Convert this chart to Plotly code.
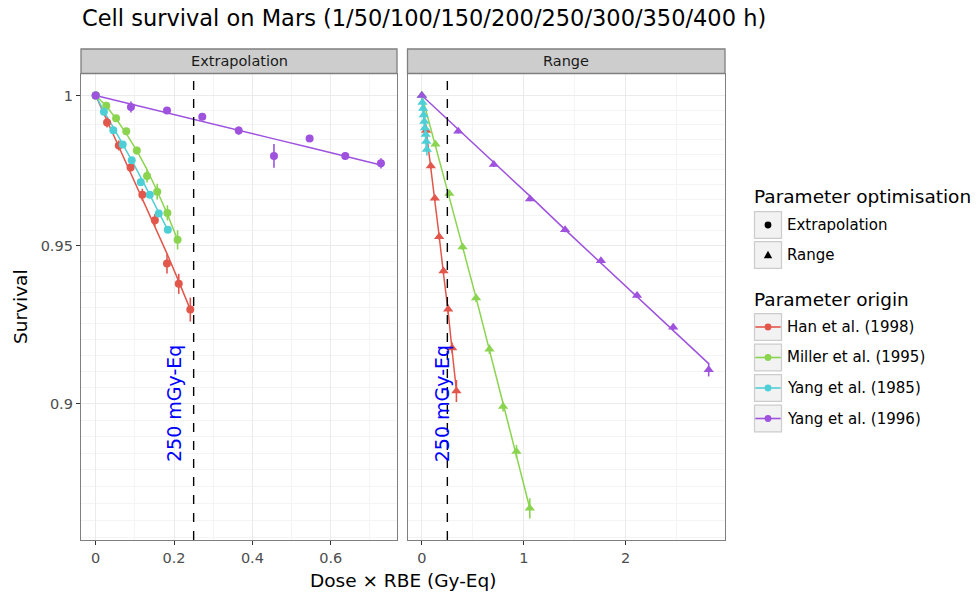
import math
import plotly.graph_objects as go

W, H = 979, 597

TITLE = "Cell survival on Mars (1/50/100/150/200/250/300/350/400 h)"
ORIGINS = ["Han et al. (1998)", "Miller et al. (1995)", "Yang et al. (1985)", "Yang et al. (1996)"]
COLORS = ["#E2574C", "#8BD450", "#4ECFD6", "#9E52DE"]
PANELS = ["Extrapolation", "Range"]
SYMBOLS = ["circle", "triangle-up"]
REF_DOSE = 0.25
REF_LABEL = "250 mGy-Eq"
REF_LABEL_X = 0.2
REF_LABEL_Y = 0.9

# ---------- Extrapolation panel ----------
EXT_HAN_DOSE = [0, 0.029, 0.059, 0.089, 0.119, 0.151, 0.182, 0.212, 0.2415]
EXT_HAN_SURV = [1.0, 0.9908, 0.9831, 0.9757, 0.9667, 0.9583, 0.9442, 0.9377, 0.9295]
EXT_HAN_ERR = [0, 0.0017, 0.0017, 0.0013, 0.002, 0.002, 0.0032, 0.0032, 0.0038]
EXT_HAN_FIT = [1.0, 0.9914, 0.98275, 0.97401, 0.96522, 0.95634, 0.94742, 0.9385, 0.92948]

EXT_MIL_DOSE = [0, 0.027, 0.052, 0.078, 0.105, 0.131, 0.157, 0.183, 0.209]
EXT_MIL_SURV = [1.0, 0.9965, 0.9923, 0.9879, 0.9814, 0.9729, 0.9677, 0.9607, 0.9519]
EXT_MIL_ERR = [0, 0.0007, 0.001, 0.001, 0.0013, 0.0022, 0.0026, 0.0025, 0.0031]
EXT_MIL_FIT = [1.0, 0.99641, 0.9921, 0.98709, 0.98137, 0.97498, 0.96792, 0.96025, 0.95188]

EXT_Y85_DOSE = [0, 0.021, 0.045, 0.069, 0.092, 0.115, 0.138, 0.161, 0.184]
EXT_Y85_SURV = [1.0, 0.9945, 0.9882, 0.9834, 0.9781, 0.9708, 0.9667, 0.9605, 0.9552]
EXT_Y85_ERR = [0, 0.0007, 0.0007, 0.001, 0.001, 0.001, 0.001, 0.001, 0.001]
EXT_Y85_FIT = [1.0, 0.99461, 0.98918, 0.98365, 0.97808, 0.97245, 0.96676, 0.96101, 0.95516]

EXT_Y96_DOSE = [0, 0.090, 0.182, 0.272, 0.365, 0.455, 0.546, 0.637, 0.728]
EXT_Y96_SURV = [1.0, 0.9961, 0.9949, 0.9928, 0.9881, 0.9796, 0.9854, 0.9796, 0.9771]
EXT_Y96_ERR = [0, 0.0019, 0.0007, 0.0007, 0.0014, 0.004, 0.0007, 0.0012, 0.0017]
EXT_Y96_FIT = [1.0, 0.99703, 0.9941, 0.99115, 0.9882, 0.9853, 0.98238, 0.97949, 0.97658]

# ---------- Range panel ----------
RNG_HAN_DOSE = [0, 0.042, 0.088, 0.127, 0.170, 0.212, 0.258, 0.297, 0.339]
RNG_HAN_SURV = [1.0, 0.9881, 0.9762, 0.9655, 0.9529, 0.9418, 0.9296, 0.9174, 0.9040]
RNG_HAN_ERR = [0, 0.002, 0.001, 0.001, 0.001, 0.001, 0.0015, 0.0017, 0.0034]
RNG_HAN_FIT = [1.0, 0.98847, 0.9768, 0.965, 0.95303, 0.94096, 0.92876, 0.91645, 0.90406]

RNG_MIL_DOSE = [0, 0.133, 0.269, 0.399, 0.532, 0.663, 0.797, 0.928, 1.059]
RNG_MIL_SURV = [1.0, 0.9835, 0.9671, 0.9496, 0.9332, 0.9170, 0.8992, 0.8855, 0.8685]
RNG_MIL_ERR = [0, 0.001, 0.001, 0.001, 0.0013, 0.0015, 0.0015, 0.002, 0.003]
RNG_MIL_FIT = [1.0, 0.98311, 0.96632, 0.9497, 0.9332, 0.91681, 0.90061, 0.88449, 0.86852]

RNG_Y85_DOSE = [0, 0.006, 0.012, 0.018, 0.024, 0.030, 0.037, 0.043, 0.049]
RNG_Y85_SURV = [1.0, 0.9976, 0.9956, 0.9934, 0.9912, 0.9890, 0.9868, 0.9844, 0.9817]
RNG_Y85_ERR = [0, 0.0015, 0.0015, 0.002, 0.002, 0.002, 0.002, 0.002, 0.002]
RNG_Y85_FIT = [1.0, 0.9976, 0.9954, 0.9933, 0.9911, 0.9890, 0.9867, 0.9843, 0.9818]

RNG_Y96_DOSE = [0, 0.357, 0.706, 1.061, 1.405, 1.757, 2.111, 2.466, 2.814]
RNG_Y96_SURV = [1.0, 0.9879, 0.9767, 0.9653, 0.9552, 0.9451, 0.9340, 0.9239, 0.9106]
RNG_Y96_ERR = [0, 0.0008, 0.0008, 0.0008, 0.0008, 0.0008, 0.0008, 0.001, 0.0021]
RNG_Y96_FIT = [1.0, 0.98861, 0.97735, 0.96622, 0.95523, 0.9443, 0.93358, 0.92297, 0.91248]

Y_TICKS = [0.9, 0.95, 1.0]
Y_TICK_TEXT = ["0.9", "0.95", "1"]
X1_TICKS = [0, 0.2, 0.4, 0.6]
X1_TICK_TEXT = ["0", "0.2", "0.4", "0.6"]
X1_MINOR = [0.1, 0.3, 0.5, 0.7]
X2_TICKS = [0, 1, 2]
X2_TICK_TEXT = ["0", "1", "2"]
X2_MINOR = [0.5, 1.5, 2.5]

panel_data = [
    [(EXT_HAN_DOSE, EXT_HAN_SURV, EXT_HAN_ERR, EXT_HAN_FIT),
     (EXT_MIL_DOSE, EXT_MIL_SURV, EXT_MIL_ERR, EXT_MIL_FIT),
     (EXT_Y85_DOSE, EXT_Y85_SURV, EXT_Y85_ERR, EXT_Y85_FIT),
     (EXT_Y96_DOSE, EXT_Y96_SURV, EXT_Y96_ERR, EXT_Y96_FIT)],
    [(RNG_HAN_DOSE, RNG_HAN_SURV, RNG_HAN_ERR, RNG_HAN_FIT),
     (RNG_MIL_DOSE, RNG_MIL_SURV, RNG_MIL_ERR, RNG_MIL_FIT),
     (RNG_Y85_DOSE, RNG_Y85_SURV, RNG_Y85_ERR, RNG_Y85_FIT),
     (RNG_Y96_DOSE, RNG_Y96_SURV, RNG_Y96_ERR, RNG_Y96_FIT)],
]

FONT = "DejaVu Sans"


def px(x):
    return x / W


def py(y):
    return 1 - y / H


fig = go.Figure()
axes = [("x", "y"), ("x2", "y2")]

# fitted lines first
for p, series in enumerate(panel_data):
    xa, ya = axes[p]
    for i, (dose, surv, err, fit) in enumerate(series):
        fig.add_trace(go.Scatter(
            x=dose, y=fit, mode="lines", xaxis=xa, yaxis=ya,
            line=dict(color=COLORS[i], width=1.5),
            showlegend=False, hoverinfo="skip"))
# points with error bars
for p, series in enumerate(panel_data):
    xa, ya = axes[p]
    for i, (dose, surv, err, fit) in enumerate(series):
        fig.add_trace(go.Scatter(
            x=dose, y=surv, mode="markers", xaxis=xa, yaxis=ya,
            name=ORIGINS[i] + " / " + PANELS[p],
            marker=dict(color=COLORS[i], symbol=SYMBOLS[p], size=8 if p == 0 else 9,
                        line=dict(width=0)),
            error_y=dict(type="data", array=err, visible=True, thickness=1.6,
                         width=0, color=COLORS[i]),
            showlegend=False))

GRID = "#EBEBEB"
MINOR_GRID = "#F4F4F4"
BORDER = "#7F7F7F"

y_minor = [round(0.86 + 0.005 * k, 3) for k in range(0, 30)]
y_minor = [v for v in y_minor if v not in (0.9, 0.95, 1.0) and v < 1.0]

common_x = dict(showgrid=True, gridcolor=GRID, gridwidth=1.3, zeroline=False,
                ticks="outside", ticklen=4, tickwidth=1.1, tickcolor="#333333",
                tickfont=dict(family=FONT, size=14.5, color="#4D4D4D"),
                showline=True, mirror=True, linecolor=BORDER, linewidth=1.3,
                tickmode="array")

fig.update_layout(
    xaxis=dict(domain=[px(81), px(397)], range=[-0.0375, 0.769], anchor="y",
               tickvals=X1_TICKS, ticktext=X1_TICK_TEXT,
               minor=dict(tickvals=X1_MINOR, showgrid=True, gridcolor=MINOR_GRID,
                          gridwidth=0.8, ticks=""),
               **common_x),
    xaxis2=dict(domain=[px(407.5), px(725)], range=[-0.141, 2.974], anchor="y2",
                tickvals=X2_TICKS, ticktext=X2_TICK_TEXT,
                minor=dict(tickvals=X2_MINOR, showgrid=True, gridcolor=MINOR_GRID,
                           gridwidth=0.8, ticks=""),
                **common_x),
    yaxis=dict(domain=[py(540), py(73.5)], type="log", range=[-0.06594, 0.00327],
               anchor="x", tickvals=Y_TICKS, ticktext=Y_TICK_TEXT, tickmode="array",
               minor=dict(tickvals=y_minor, showgrid=True, gridcolor=MINOR_GRID,
                          gridwidth=0.8, ticks=""),
               showgrid=True, gridcolor=GRID, gridwidth=1.3, zeroline=False,
               ticks="outside", ticklen=4, tickwidth=1.1, tickcolor="#333333",
               tickfont=dict(family=FONT, size=14.5, color="#4D4D4D"),
               showline=True, mirror=True, linecolor=BORDER, linewidth=1.3),
    yaxis2=dict(domain=[py(540), py(73.5)], type="log", range=[-0.06594, 0.00327],
                anchor="x2", matches="y", tickvals=Y_TICKS, tickmode="array",
                showticklabels=False, ticks="",
                minor=dict(tickvals=y_minor, showgrid=True, gridcolor=MINOR_GRID,
                           gridwidth=0.8, ticks=""),
                showgrid=True, gridcolor=GRID, gridwidth=1.3, zeroline=False,
                showline=True, mirror=True, linecolor=BORDER, linewidth=1.3),
    width=W, height=H, autosize=False,
    margin=dict(l=0, r=0, t=0, b=0),
    paper_bgcolor="white", plot_bgcolor="white",
    showlegend=False,
    font=dict(family=FONT, color="#000000"),
    title=dict(text=TITLE, x=82 / W, xanchor="left", xref="container",
               y=1 - 18 / H, yanchor="middle", yref="container",
               font=dict(family=FONT, size=22.5, color="#000000")),
)

shapes = []
annotations = []

# reference dose lines + labels
for p, (xa, ya) in enumerate(axes):
    shapes.append(dict(type="line", xref=xa, yref=ya + " domain", x0=REF_DOSE, x1=REF_DOSE,
                       y0=0, y1=1, line=dict(color="black", width=1.4, dash="dash"), layer="above"))
    annotations.append(dict(x=REF_LABEL_X, y=math.log10(REF_LABEL_Y), xref=xa, yref=ya,
                            xanchor="center", yanchor="middle",
                            text=REF_LABEL, textangle=-90, showarrow=False,
                            font=dict(family=FONT, size=19, color="#0000FF")))

# strips
strip_x = [(81, 397), (407.5, 725)]
for p, (x0, x1) in enumerate(strip_x):
    shapes.append(dict(type="rect", xref="paper", yref="paper", x0=px(x0), x1=px(x1),
                       y0=py(73.5), y1=py(49), fillcolor="#CDCDCD",
                       line=dict(color=BORDER, width=1.3), layer="above"))
    annotations.append(dict(x=px((x0 + x1) / 2), y=py(61.5), xref="paper", yref="paper",
                            xanchor="center", yanchor="middle",
                            text=PANELS[p], showarrow=False,
                            font=dict(family=FONT, size=14.5, color="#1A1A1A")))

# axis titles
annotations.append(dict(x=px(403), y=py(580), xref="paper", yref="paper",
                        xanchor="center", yanchor="middle",
                        text="Dose × RBE (Gy-Eq)", showarrow=False,
                        font=dict(family=FONT, size=18.5, color="#000000")))
annotations.append(dict(x=px(20), y=py(307), xref="paper", yref="paper",
                        xanchor="center", yanchor="middle",
                        text="Survival", textangle=-90, showarrow=False,
                        font=dict(family=FONT, size=18.5, color="#000000")))

# manual legend (ggplot-style key boxes)
KEY_FILL = "#F2F2F2"
KEY_LINE = "#CCCCCC"
LEG_X0, LEG_X1 = 754.5, 781.5
key_cx = (LEG_X0 + LEG_X1) / 2


def key_box(yc):
    shapes.append(dict(type="rect", xref="paper", yref="paper",
                       x0=px(LEG_X0), x1=px(LEG_X1), y0=py(yc + 13.3), y1=py(yc - 13.3),
                       fillcolor=KEY_FILL, line=dict(color=KEY_LINE, width=1.2), layer="above"))


def key_dot(yc, color, r=3.4):
    shapes.append(dict(type="circle", xref="paper", yref="paper",
                       x0=px(key_cx - r), x1=px(key_cx + r), y0=py(yc + r), y1=py(yc - r),
                       fillcolor=color, line=dict(width=0), layer="above"))


def label(text, yc, size=15, x=787):
    annotations.append(dict(x=px(x), y=py(yc), xref="paper", yref="paper", xanchor="left",
                            yanchor="middle", text=text, showarrow=False,
                            font=dict(family=FONT, size=size, color="#000000")))


label("Parameter optimisation", 196, size=18.5, x=752)
opt_y = [225, 255]
for k, yc in enumerate(opt_y):
    key_box(yc)
    label(PANELS[k], yc, x=785)
key_dot(opt_y[0], "black")
tri = "M {} {} L {} {} L {} {} Z".format(px(key_cx), py(opt_y[1] - 4.2),
                                         px(key_cx - 4.2), py(opt_y[1] + 3.2),
                                         px(key_cx + 4.2), py(opt_y[1] + 3.2))
shapes.append(dict(type="path", xref="paper", yref="paper", path=tri,
                   fillcolor="black", line=dict(width=0), layer="above"))

label("Parameter origin", 299, size=18.5, x=752)
org_y = [327, 357.5, 388, 418.5]
for k, yc in enumerate(org_y):
    key_box(yc)
    shapes.append(dict(type="line", xref="paper", yref="paper",
                       x0=px(LEG_X0 + 0.8), x1=px(LEG_X1 - 0.8), y0=py(yc), y1=py(yc),
                       line=dict(color=COLORS[k], width=1.6), layer="above"))
    key_dot(yc, COLORS[k])
    label(ORIGINS[k], yc, x=785)

fig.update_layout(shapes=shapes, annotations=annotations)

fig.write_html("out.html")
